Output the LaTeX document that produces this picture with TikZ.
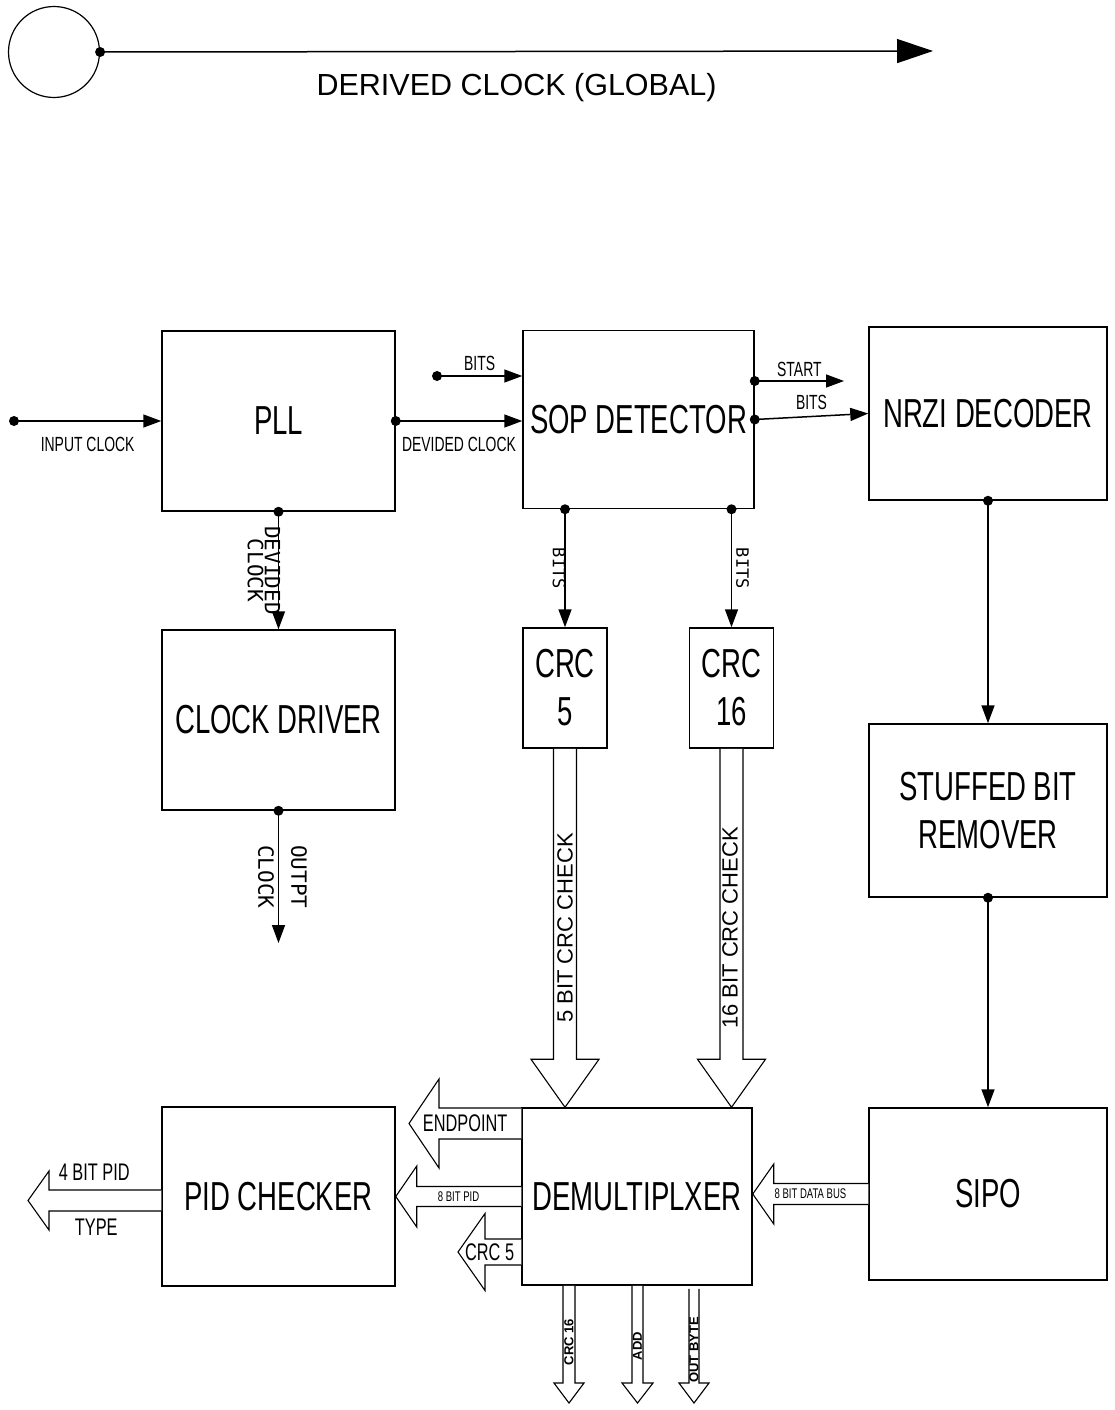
\documentclass[tikz,border=0pt]{standalone}
\usepackage{fontspec}
\setmainfont{Liberation Sans}
\newfontfamily\narrowsf[FakeStretch=0.68]{Liberation Sans}
\newfontfamily\clkmono{DejaVu Sans Mono}
\usepackage{tikz}
\usetikzlibrary{arrows.meta, positioning, calc}
\newcommand{\blockfont}{\narrowsf\fontsize{40.5}{48}\selectfont}
\newcommand{\lblfont}{\narrowsf\fontsize{20.5}{24}\selectfont}
\newcommand{\buslblfont}{\narrowsf\fontsize{24}{28}\selectfont}
\newcommand{\tinylblfont}{\narrowsf\fontsize{14}{16}\selectfont}
\tikzstyle{block} = [rectangle, draw=black, line width=1.5pt, minimum width=233pt, minimum height=180pt, align=center, font=\blockfont]
\tikzstyle{crcblock} = [block, minimum width=84pt, minimum height=120pt]
\tikzstyle{clkring} = [circle, draw=black, line width=1.2pt, minimum size=91pt, inner sep=0pt]
\tikzstyle{sig} = [line width=1.5pt, -{Triangle[length=18pt,width=13pt]}]
\tikzstyle{sigbig} = [line width=1.5pt, -{Triangle[length=36pt,width=24pt]}]
\tikzstyle{bus} = [draw=black, line width=1.1pt, fill=white, line join=miter]
\tikzstyle{lbl} = [inner sep=0pt, font=\lblfont]
\tikzstyle{buslbl} = [inner sep=0pt, font=\buslblfont]
\tikzstyle{tinylbl} = [inner sep=0pt, font=\tinylblfont]
\tikzstyle{monolbl} = [inner sep=0pt, align=center, font={\clkmono\fontsize{21}{17}\selectfont}]
\tikzstyle{bitslbl} = [inner sep=0pt, font={\clkmono\fontsize{17}{20}\selectfont}]
\tikzstyle{checklbl} = [inner sep=0pt, font={\fontsize{22}{26}\selectfont}]
\tikzstyle{outlbl} = [inner sep=0pt, font={\bfseries\fontsize{13}{15}\selectfont}]
% hollow bus arrows: from, to, half shaft, half head, head length
\newcommand{\busdown}[5]{%
  \draw[bus] let \p1=#1, \p2=#2 in
    (\x2-#3,\y1) -- (\x2-#3,\y2+#5) -- (\x2-#4,\y2+#5) -- (\x2,\y2)
    -- (\x2+#4,\y2+#5) -- (\x2+#3,\y2+#5) -- (\x2+#3,\y1);}
\newcommand{\busleft}[5]{%
  \draw[bus] let \p1=#1, \p2=#2 in
    (\x1,\y2+#3) -- (\x2+#5,\y2+#3) -- (\x2+#5,\y2+#4) -- (\x2,\y2)
    -- (\x2+#5,\y2-#4) -- (\x2+#5,\y2-#3) -- (\x1,\y2-#3);}

\begin{document}
\begin{tikzpicture}[x=1pt, y=-1pt]
\useasboundingbox (0,0) rectangle (1115,1410);

            % Place nodes
            \node (clk) [clkring] at (54,52) {};
            \node (pll) [block] at (278.5,421) {PLL};
            \node (clkdrv) [block, below of=pll, node distance=299pt] {CLOCK DRIVER};
            \node (sop) [block, minimum width=231pt, minimum height=178pt] at (638.5,419.5) {SOP DETECTOR};
            \node (nrzi) [block, minimum width=238pt, minimum height=173pt] at (988,413.5) {NRZI DECODER};
            \node (stuff) [block, minimum width=238pt, minimum height=173pt, below of=nrzi, node distance=397pt] {STUFFED BIT\\REMOVER};
            \node (sipo) [block, minimum width=238pt, minimum height=172pt, below of=stuff, node distance=383.5pt] {SIPO};
            \node (crc5) [crcblock] at (565,688) {CRC\\5};
            \node (crc16) [crcblock, right of=crc5, node distance=166.5pt] {CRC\\16};
            \node (dmx) [block, minimum width=230pt, minimum height=177pt] at (637,1196.5) {DEMULTIPLXER};
            \node (pid) [block, minimum height=179pt, left of=dmx, node distance=358.5pt] {PID CHECKER};

            % Free ends
            \coordinate (gclk) at (933,51);
            \coordinate (inclk) at (14,421);
            \coordinate (bitsin) at (437,376);
            \coordinate (startout) at (844,381);
            \coordinate (outclk) at (278.5,943);
            \coordinate (endp) at (409,1123.5);
            \coordinate (crc5out) at (458,1252);
            \coordinate (pidout) at (28,1200.5);
            \coordinate (crc16out) at (569,1403);
            \coordinate (addout) at (637.5,1403);
            \coordinate (byteout) at (694,1403);

            % Draw edges
            \draw [sigbig] (clk.east) -- node[yshift=-36.5pt, inner sep=0pt, font=\fontsize{30.5}{34}\selectfont] {DERIVED CLOCK (GLOBAL)} (gclk);
            \draw [sig] (inclk) -- node[lbl, yshift=-23pt] {INPUT CLOCK} (pll.west);
            \draw [sig] (pll.east) -- node[lbl, yshift=-23.5pt] {DEVIDED CLOCK} (sop.west |- pll.east);
            \draw [sig] (bitsin) -- node[lbl, yshift=13pt] {BITS} (sop.west |- bitsin);
            \draw [sig] (sop.east |- startout) -- node[lbl, yshift=12pt] {START} (startout);
            \draw [sig] (sop.east) -- node[lbl, yshift=14pt] {BITS} (nrzi.west);
            \draw [sig] (pll.south) -- node[monolbl, xshift=-14.5pt, rotate=-90] {DEVIDED\\CLOCK} (clkdrv.north);
            \draw [sig] (clkdrv.south) -- node[monolbl, xshift=4pt, rotate=-90, font={\clkmono\fontsize{21}{33}\selectfont}] {OUTPT\\CLOCK} (outclk);
            \draw [sig] (crc5.north |- sop.south) -- node[bitslbl, xshift=-6pt, rotate=-90] {BITS} (crc5.north);
            \draw [sig] (crc16.north |- sop.south) -- node[bitslbl, xshift=11pt, rotate=-90] {BITS} (crc16.north);
            \draw [sig] (nrzi.south) -- (stuff.north);
            \draw [sig] (stuff.south) -- (sipo.north);

            % Bus arrows
            \busdown{(crc5.south)}{(crc5.south |- dmx.north)}{11.5pt}{34pt}{48pt}
            \busdown{(crc16.south)}{(crc16.south |- dmx.north)}{11.5pt}{34pt}{48pt}
            \busleft{(sipo.west)}{(dmx.east |- sipo.west)}{10.5pt}{30pt}{21pt}
            \busleft{(dmx.west |- pid.east)}{(pid.east)}{10pt}{30.5pt}{21pt}
            \busleft{(dmx.west |- endp)}{(endp)}{15.5pt}{44.5pt}{30pt}
            \busleft{(dmx.west |- crc5out)}{(crc5out)}{13pt}{38.5pt}{27pt}
            \busleft{(pid.west)}{(pidout)}{10.5pt}{29.5pt}{21pt}
            \busdown{(crc16out |- dmx.south)}{(crc16out)}{6pt}{15pt}{20pt}
            \busdown{(addout |- dmx.south)}{(addout)}{5.5pt}{15.5pt}{20pt}
            \busdown{($(byteout |- dmx.south)+(0,3)$)}{(byteout)}{5pt}{15pt}{20pt}

            % Bus labels
            \node (chk5) [checklbl, rotate=90] at ($(crc5.south)!0.5!(crc5.south |- dmx.north)$) {5 BIT CRC CHECK};
            \node (chk16) [checklbl, xshift=-1.5pt, rotate=90] at ($(crc16.south)!0.5!(crc16.south |- dmx.north)$) {16 BIT CRC CHECK};
            \node (databus) [tinylbl] at ($(dmx.east |- sipo.west)!0.5!(sipo.west)$) {8 BIT DATA BUS};
            \node (pidbus) [tinylbl] at ($(pid.east)!0.5!(dmx.west |- pid.east)$) {8 BIT PID};
            \node (endplbl) [buslbl] at ($(endp)!0.5!(dmx.west |- endp)$) {ENDPOINT};
            \node (crc5lbl) [buslbl] at ($(crc5out)!0.5!(dmx.west |- crc5out)$) {CRC 5};
            \node (pidlbl) [buslbl, above=20pt of pidout -| pid.west, xshift=-67pt] {4 BIT PID};
            \node (typelbl) [buslbl, below=18pt of pidout -| pid.west, xshift=-65pt] {TYPE};
            \node (crc16lbl) [outlbl, rotate=90] at (569,1342) {CRC 16};
            \node (addlbl) [outlbl, rotate=90] at (637.5,1346) {ADD};
            \node (bytelbl) [outlbl, rotate=90] at (694,1350) {OUT BYTE};

            % Tap dots
            \fill (clk.east) circle (5pt);
            \fill (inclk) circle (5pt);
            \fill (bitsin) circle (5pt);
            \fill (pll.east) circle (5pt);
            \fill (pll.south) circle (5pt);
            \fill (clkdrv.south) circle (5pt);
            \fill (sop.east) circle (5pt);
            \fill (sop.east |- startout) circle (5pt);
            \fill (crc5.north |- sop.south) circle (5pt);
            \fill (crc16.north |- sop.south) circle (5pt);
            \fill (nrzi.south) circle (5pt);
            \fill (stuff.south) circle (5pt);
\end{tikzpicture}
\end{document}
